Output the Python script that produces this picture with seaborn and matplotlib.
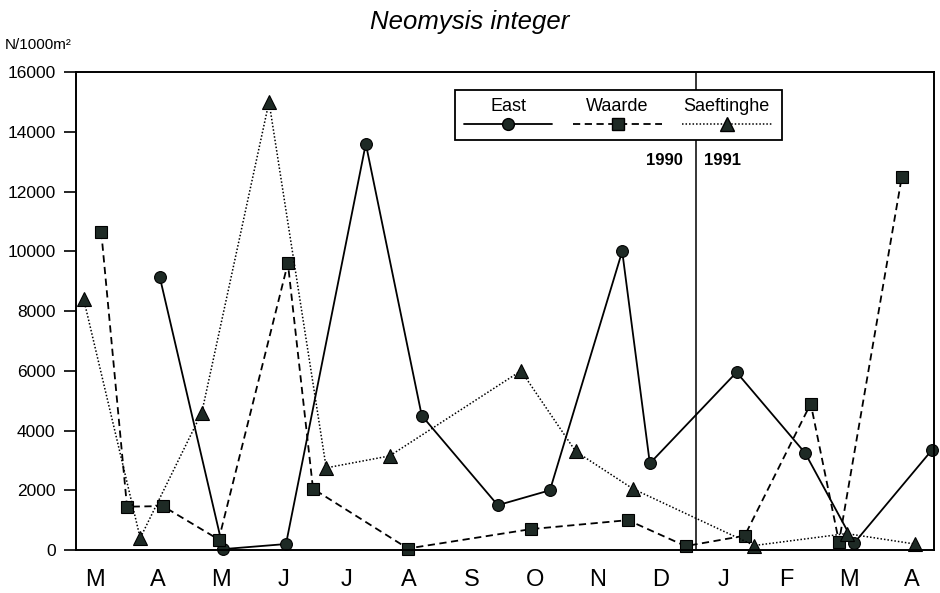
import matplotlib
matplotlib.use("Agg")
import matplotlib.pyplot as plt
import seaborn as sns
import pandas as pd
from matplotlib.lines import Line2D
from matplotlib.patches import Rectangle

# x = position in months since March 1990 (M=0 ... A=13)
months = ["M", "A", "M", "J", "J", "A", "S", "O", "N", "D", "J", "F", "M", "A"]

east_x = [1.03, 2.04, 3.04, 4.31, 5.20, 6.41, 7.24, 8.39, 8.83, 10.21, 11.30, 12.08, 13.32]
east_y = [9150, 30, 200, 13600, 4500, 1500, 2000, 10000, 2900, 5950, 3250, 230, 3350]

waarde_x = [0.10, 0.51, 1.08, 1.97, 3.07, 3.47, 4.98, 6.94, 8.48, 9.40, 10.34, 11.39, 11.84, 12.84]
waarde_y = [10650, 1450, 1470, 350, 9600, 2050, 50, 700, 1000, 130, 480, 4900, 270, 12500]

saef_x = [-0.18, 0.72, 1.70, 2.77, 3.68, 4.69, 6.78, 7.65, 8.56, 10.49, 11.96, 13.05]
saef_y = [8400, 400, 4600, 15000, 2750, 3150, 6000, 3300, 2050, 150, 550, 200]

year_split = 9.56

sns.set_style("ticks")
plt.rcParams["font.family"] = ["Liberation Sans", "DejaVu Sans"]
plt.rcParams["text.color"] = "black"
plt.rcParams["xtick.color"] = "black"
plt.rcParams["ytick.color"] = "black"
plt.rcParams["axes.edgecolor"] = "black"

fig = plt.figure(figsize=(9.4, 5.93), dpi=100)
ax = fig.add_axes([0.0805, 0.0725, 0.913, 0.806])

mk_col = "#1e2a25"
series = [
    ("East", east_x, east_y, "o", "-", 1.3, 8.5),
    ("Waarde", waarde_x, waarde_y, "s", (0, (4, 2.5)), 1.3, 8),
    ("Saeftinghe", saef_x, saef_y, "^", (0, (1, 1.3)), 1.1, 10),
]
for name, xs, ys, mk, ls, lw, ms in series:
    df = pd.DataFrame({"x": xs, "y": ys})
    sns.lineplot(data=df, x="x", y="y", sort=False, estimator=None, ax=ax,
                 color="black", linestyle=ls, linewidth=lw, marker=mk,
                 markersize=ms, markerfacecolor=mk_col, markeredgecolor="black",
                 markeredgewidth=0.8, clip_on=False)

ax.axvline(year_split, color="black", lw=1.1)
ax.text(year_split - 0.2, 13050, "1990", ha="right", va="center",
        fontsize=12, fontweight="bold")
ax.text(year_split + 0.13, 13050, "1991", ha="left", va="center",
        fontsize=12, fontweight="bold")

ax.set_xlim(-0.307, 13.35)
ax.set_ylim(0, 16000)
ax.set_xticks(range(len(months)))
ax.set_xticklabels(months, fontsize=17)
ax.set_yticks(range(0, 16001, 2000))
ax.tick_params(axis="x", length=0, pad=14)
ax.tick_params(axis="y", length=8.5, width=1.2, pad=6, labelsize=12.5)
ax.set_xlabel("")
ax.set_ylabel("")
for sp in ax.spines.values():
    sp.set_visible(True)
    sp.set_linewidth(1.4)

# legend box with labels above the keys
ax.add_patch(Rectangle((0.442, 0.858), 0.381, 0.104, transform=ax.transAxes,
                       facecolor="white", edgecolor="black", lw=1.3, zorder=5))
keys = [
    ("East", 0.453, 0.555, "o", "-", 1.3, 8.5),
    ("Waarde", 0.580, 0.683, "s", (0, (4, 2.5)), 1.3, 8),
    ("Saeftinghe", 0.706, 0.811, "^", (0, (1, 1.3)), 1.1, 10),
]
for name, x0, x1, mk, ls, lw, ms in keys:
    xm = (x0 + x1) / 2
    ax.add_line(Line2D([x0, x1], [0.891, 0.891], transform=ax.transAxes,
                       color="black", linestyle=ls, lw=lw, zorder=6))
    ax.add_line(Line2D([xm], [0.891], transform=ax.transAxes, marker=mk,
                       markersize=ms, markerfacecolor=mk_col,
                       markeredgecolor="black", zorder=7))
    ax.text(xm, 0.927, name, transform=ax.transAxes, ha="center",
            va="center", fontsize=13, zorder=7)

fig.text(0.5, 0.963, "Neomysis integer", ha="center", va="center",
         fontsize=18.5, style="italic")
fig.text(0.005, 0.924, "N/1000m²", ha="left", va="center", fontsize=11)

fig.savefig("out.png", dpi=100)
